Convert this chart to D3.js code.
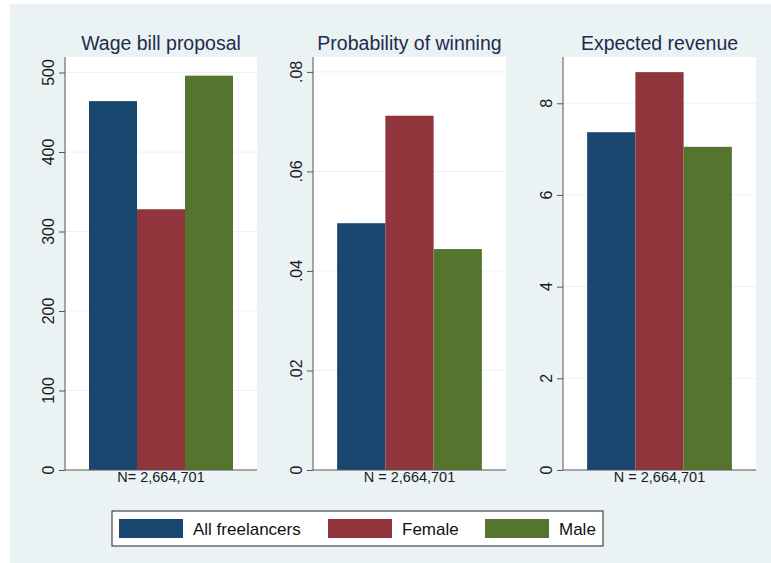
<!DOCTYPE html>
<html>
<head>
<meta charset="utf-8">
<script src="https://d3js.org/d3.v7.min.js"></script>
<style>
  body { margin: 0; background: #fff; }
  text { font-family: "Liberation Sans", Arial, sans-serif; }
</style>
</head>
<body>
<div id="chart"></div>
<script>
// groups and colours
const groups = ["All freelancers", "Female", "Male"];
const groupColors = ["#1a476f", "#90353b", "#55752f"];

// panel titles and footers
const panelTitles = ["Wage bill proposal", "Probability of winning", "Expected revenue"];
const nLabels = ["N= 2,664,701", "N = 2,664,701", "N = 2,664,701"];

// values per panel (All, Female, Male)
const wageBill = [464, 328, 496];
const probWinning = [0.0496, 0.0712, 0.0444];
const expectedRevenue = [7.37, 8.68, 7.05];

// axis ticks
const wageTicks = [0, 100, 200, 300, 400, 500];
const probTicks = [0, 0.02, 0.04, 0.06, 0.08];
const probTickLabels = ["0", ".02", ".04", ".06", ".08"];
const revTicks = [0, 2, 4, 6, 8];

const w = 771, h = 563;

const panels = [
  { title: panelTitles[0], values: wageBill, max: 519.5, ticks: wageTicks,
    fmt: d => String(d), x0: 65, x1: 257, n: nLabels[0] },
  { title: panelTitles[1], values: probWinning, max: 0.083, ticks: probTicks,
    fmt: (d, i) => probTickLabels[i], x0: 313, x1: 506, n: nLabels[1] },
  { title: panelTitles[2], values: expectedRevenue, max: 9.01, ticks: revTicks,
    fmt: d => String(d), x0: 563, x1: 756, n: nLabels[2] }
];

const plotTop = 57, plotBottom = 470;

const svg = d3.select("#chart").append("svg")
  .attr("width", w)
  .attr("height", h);

// outer background
svg.append("rect")
  .attr("x", 10).attr("y", 4)
  .attr("width", w - 10).attr("height", h - 4)
  .attr("fill", "#eaf2f3");

panels.forEach(function(p) {
  const g = svg.append("g");

  const xScale = d3.scaleBand()
    .domain(groups)
    .range([p.x0, p.x1])
    .paddingInner(0)
    .paddingOuter(0.5);

  const yScale = d3.scaleLinear()
    .domain([0, p.max])
    .range([plotBottom, plotTop]);

  // plot region
  g.append("rect")
    .attr("x", p.x0).attr("y", plotTop)
    .attr("width", p.x1 - p.x0).attr("height", plotBottom - plotTop)
    .attr("fill", "#fff");

  // grid lines
  g.selectAll(".grid")
    .data(p.ticks.filter(d => d > 0))
    .enter().append("line")
    .attr("x1", p.x0).attr("x2", p.x1)
    .attr("y1", d => yScale(d)).attr("y2", d => yScale(d))
    .attr("stroke", "#eaf2f3")
    .attr("stroke-width", 1);

  // bars
  g.selectAll(".bar")
    .data(p.values)
    .enter().append("rect")
    .attr("x", (d, i) => xScale(groups[i]))
    .attr("y", d => yScale(d))
    .attr("width", xScale.bandwidth())
    .attr("height", d => plotBottom - yScale(d))
    .attr("fill", (d, i) => groupColors[i]);

  // y axis
  const yAxis = d3.axisLeft(yScale)
    .tickValues(p.ticks)
    .tickSize(6)
    .tickFormat("");
  const ax = g.append("g")
    .attr("transform", "translate(" + p.x0 + ",0)")
    .call(yAxis);
  ax.select(".domain").attr("stroke", "#555").attr("d", "M0," + plotTop + "V" + plotBottom);
  ax.selectAll(".tick line").attr("stroke", "#555");

  // rotated tick labels
  g.selectAll(".ylab")
    .data(p.ticks)
    .enter().append("text")
    .attr("transform", d => "translate(" + (p.x0 - 11) + "," + yScale(d) + ") rotate(-90)")
    .attr("text-anchor", "middle")
    .style("font-size", "16px")
    .style("fill", "#1a1a1a")
    .text((d, i) => p.fmt(d, i));

  // bottom axis line
  g.append("line")
    .attr("x1", p.x0).attr("x2", p.x1)
    .attr("y1", plotBottom).attr("y2", plotBottom)
    .attr("stroke", "#555");

  // title
  g.append("text")
    .attr("x", (p.x0 + p.x1) / 2)
    .attr("y", 50)
    .attr("text-anchor", "middle")
    .style("font-size", "19.5px")
    .style("fill", "#1e2b4d")
    .text(p.title);

  // N label
  g.append("text")
    .attr("x", (p.x0 + p.x1) / 2)
    .attr("y", 482)
    .attr("text-anchor", "middle")
    .style("font-size", "14.5px")
    .style("fill", "#1a1a1a")
    .text(p.n);
});

// legend
const legend = svg.append("g");
legend.append("rect")
  .attr("x", 112).attr("y", 511)
  .attr("width", 491).attr("height", 35)
  .attr("fill", "#fff")
  .attr("stroke", "#222")
  .attr("stroke-width", 1);

const legendX = [119, 328, 485];
groups.forEach(function(name, i) {
  legend.append("rect")
    .attr("x", legendX[i]).attr("y", 519)
    .attr("width", 64).attr("height", 19)
    .attr("fill", groupColors[i]);
  legend.append("text")
    .attr("x", legendX[i] + 74)
    .attr("y", 535)
    .style("font-size", "17px")
    .style("fill", "#111")
    .text(name);
});
</script>
</body>
</html>
